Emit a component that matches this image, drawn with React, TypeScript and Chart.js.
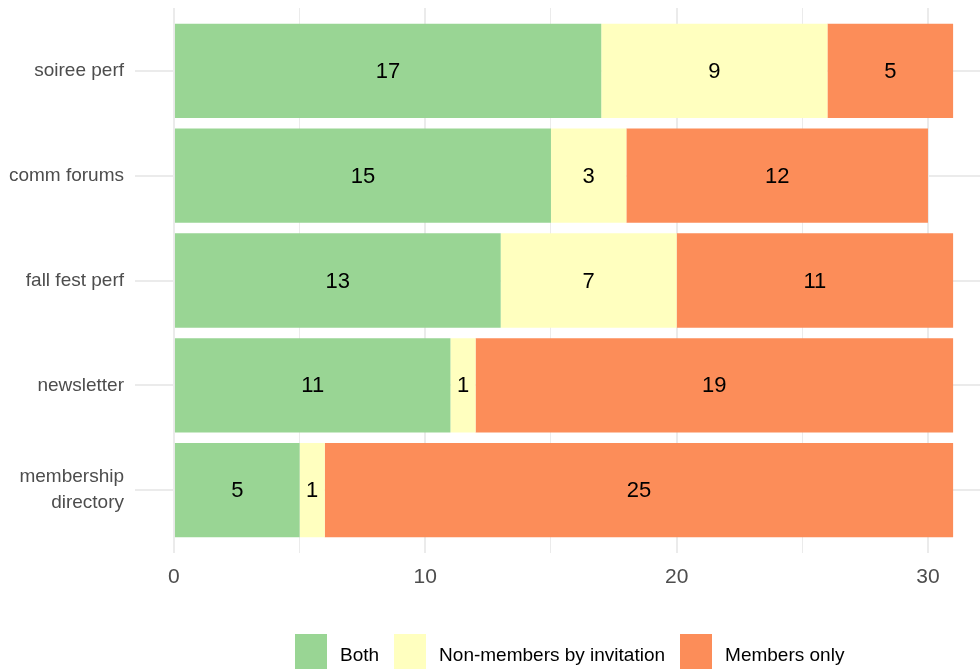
import React, { useEffect, useRef } from "react";
import { Chart, registerables } from "chart.js";

Chart.register(...registerables);

const categories: (string | string[])[] = [
  "soiree perf",
  "comm forums",
  "fall fest perf",
  "newsletter",
  ["membership", "directory"],
];
const seriesNames = ["Both", "Non-members by invitation", "Members only"];
const bothValues = [17, 15, 13, 11, 5];
const nonMemberValues = [9, 3, 7, 1, 1];
const membersOnlyValues = [5, 12, 11, 19, 25];
const seriesColors = ["#99D594", "#FFFFBF", "#FC8D59"];
const xTickLabels = [0, 10, 20, 30];

const FONT = "'Liberation Sans', Arial, Helvetica, sans-serif";

const toPoints = (vals: number[]) => vals.map((v, i) => ({ x: v, y: i + 1 }));

const valueLabelPlugin = {
  id: "valueLabels",
  afterDatasetsDraw(chart: any) {
    const ctx = chart.ctx;
    ctx.save();
    ctx.font = `22px ${FONT}`;
    ctx.fillStyle = "#000000";
    ctx.textAlign = "center";
    ctx.textBaseline = "middle";
    chart.data.datasets.forEach((ds: any, di: number) => {
      const meta = chart.getDatasetMeta(di);
      meta.data.forEach((el: any, i: number) => {
        const v = ds.data[i].x;
        const c = el.getCenterPoint();
        ctx.fillText(String(v), c.x, c.y + 1);
      });
    });
    ctx.restore();
  },
};

export default function App() {
  const canvasRef = useRef<HTMLCanvasElement | null>(null);

  useEffect(() => {
    if (!canvasRef.current) return;
    const allVals = [bothValues, nonMemberValues, membersOnlyValues];
    const chart = new Chart(canvasRef.current, {
      type: "bar",
      data: {
        datasets: allVals.map((vals, k) => ({
          label: seriesNames[k],
          data: toPoints(vals),
          backgroundColor: seriesColors[k],
          borderWidth: 0,
          barPercentage: 0.9,
          categoryPercentage: 1,
        })),
      },
      options: {
        indexAxis: "y",
        animation: false,
        responsive: false,
        maintainAspectRatio: false,
        layout: { padding: { top: 8, bottom: 76, left: 0, right: 0 } },
        plugins: {
          legend: { display: false },
          tooltip: { enabled: false },
        },
        scales: {
          x: {
            type: "linear",
            stacked: true,
            offset: false,
            min: -1.55,
            max: 32.07,
            border: { display: false },
            grid: {
              offset: false,
              color: "#EBEBEB",
              lineWidth: (c: any) => (c.tick && c.tick.value % 10 === 0 ? 2 : 1),
              drawTicks: false,
            },
            ticks: {
              stepSize: 5,
              includeBounds: false,
              autoSkip: false,
              maxRotation: 0,
              padding: 12,
              color: "#4D4D4D",
              font: { family: FONT, size: 21 },
              callback: (v: any) => (xTickLabels.includes(Number(v)) ? String(v) : ""),
            },
            afterFit: (s: any) => {
              s.height = 40;
              s.paddingLeft = 0;
              s.paddingRight = 0;
            },
          },
          y: {
            type: "linear",
            stacked: true,
            reverse: true,
            offset: false,
            min: 0.4,
            max: 5.6,
            border: { display: false },
            grid: { offset: false, color: "#EBEBEB", lineWidth: 2, drawTicks: false },
            ticks: {
              stepSize: 1,
              includeBounds: false,
              autoSkip: false,
              padding: 11,
              color: "#4D4D4D",
              font: { family: FONT, size: 19, lineHeight: 1.37 },
              callback: (v: any) => {
                const idx = Math.round(Number(v)) - 1;
                return categories[idx] ?? "";
              },
            },
            afterFit: (s: any) => {
              s.width = 135;
              s.paddingTop = 0;
              s.paddingBottom = 0;
            },
          },
        },
      },
      plugins: [valueLabelPlugin],
    } as any);
    return () => chart.destroy();
  }, []);

  const legendItem = (name: string, color: string) => (
    <div key={name} style={{ display: "flex", alignItems: "flex-start", marginRight: 15 }}>
      <div style={{ width: 32, height: 40, background: color, marginRight: 13 }} />
      <span
        style={{
          fontFamily: FONT,
          fontSize: 19,
          lineHeight: "20px",
          marginTop: 11,
          color: "#000000",
          whiteSpace: "nowrap",
        }}
      >
        {name}
      </span>
    </div>
  );

  return (
    <div
      style={{
        position: "fixed",
        left: 0,
        top: 0,
        width: 980,
        height: 669,
        overflow: "hidden",
        background: "#FFFFFF",
      }}
    >
      <canvas ref={canvasRef} width={980} height={669} style={{ width: 980, height: 669, display: "block" }} />
      <div style={{ position: "absolute", left: 295, top: 634, display: "flex" }}>
        {seriesNames.map((n, k) => legendItem(n, seriesColors[k]))}
      </div>
    </div>
  );
}
